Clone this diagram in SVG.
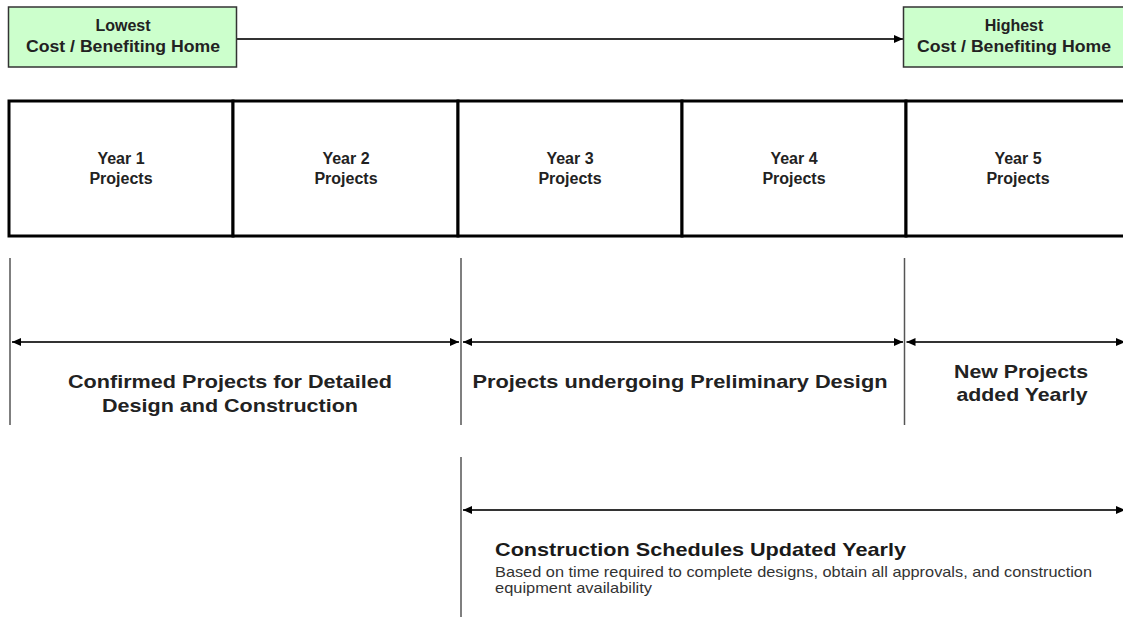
<svg xmlns="http://www.w3.org/2000/svg" width="1123" height="619" viewBox="0 0 1123 619">
<style>
.box{fill:#ccffcc;stroke:#333;stroke-width:1.5}
.cell{fill:#fff;stroke:#000;stroke-width:3}
.bt{font-family:"Liberation Sans",Arial,sans-serif;font-weight:bold;font-size:16px;fill:#222;text-anchor:middle}
.lbl{font-family:"Liberation Sans",Arial,sans-serif;font-weight:bold;font-size:18.5px;fill:#222;text-anchor:middle}
.head{font-family:"Liberation Sans",Arial,sans-serif;font-weight:bold;font-size:18.5px;fill:#1a1a1a}
.sub{font-family:"Liberation Sans",Arial,sans-serif;font-size:14.5px;fill:#333}
.ln{stroke:#333;stroke-width:1.8;fill:none}
.vl{stroke:#555;stroke-width:1.5;fill:none}
</style>
<defs>
<marker id="ah" markerUnits="userSpaceOnUse" markerWidth="10" markerHeight="9" refX="9" refY="4" orient="auto-start-reverse" viewBox="0 0 10 9">
<path d="M0,0 L9,4 L0,8 z" fill="#000"/>
</marker>
</defs>
<rect width="1123" height="619" fill="#fff"/>

<g id="connectors">
<line class="ln" x1="237" y1="39" x2="903" y2="39" marker-end="url(#ah)"/>
<line class="vl" x1="10" y1="258" x2="10" y2="425"/>
<line class="vl" x1="461" y1="258" x2="461" y2="425"/>
<line class="vl" x1="904.5" y1="258" x2="904.5" y2="425"/>
<line class="ln" x1="12" y1="342" x2="459" y2="342" marker-start="url(#ah)" marker-end="url(#ah)"/>
<line class="ln" x1="463" y1="342" x2="903" y2="342" marker-start="url(#ah)" marker-end="url(#ah)"/>
<line class="ln" x1="906.5" y1="342" x2="1125" y2="342" marker-start="url(#ah)" marker-end="url(#ah)"/>
<line class="vl" x1="461" y1="457" x2="461" y2="617"/>
<line class="ln" x1="463" y1="510" x2="1125" y2="510" marker-start="url(#ah)" marker-end="url(#ah)"/>
</g>

<g id="lowest">
<rect class="box" x="8.5" y="7" width="228" height="60"/>
<text class="bt" x="123" y="31">Lowest</text>
<text class="bt" x="123" y="52" textLength="194" lengthAdjust="spacingAndGlyphs">Cost / Benefiting Home</text>
</g>

<g id="highest">
<rect class="box" x="903.5" y="7" width="230" height="60"/>
<text class="bt" x="1014" y="31">Highest</text>
<text class="bt" x="1014" y="52" textLength="194" lengthAdjust="spacingAndGlyphs">Cost / Benefiting Home</text>
</g>

<g id="year1">
<rect class="cell" x="9" y="101" width="224" height="135"/>
<text class="bt" x="121" y="164">Year 1</text>
<text class="bt" x="121" y="184">Projects</text>
</g>
<g id="year2">
<rect class="cell" x="233" y="101" width="225" height="135"/>
<text class="bt" x="346" y="164">Year 2</text>
<text class="bt" x="346" y="184">Projects</text>
</g>
<g id="year3">
<rect class="cell" x="458" y="101" width="224" height="135"/>
<text class="bt" x="570" y="164">Year 3</text>
<text class="bt" x="570" y="184">Projects</text>
</g>
<g id="year4">
<rect class="cell" x="682" y="101" width="224" height="135"/>
<text class="bt" x="794" y="164">Year 4</text>
<text class="bt" x="794" y="184">Projects</text>
</g>
<g id="year5">
<rect class="cell" x="906" y="101" width="230" height="135"/>
<text class="bt" x="1018" y="164">Year 5</text>
<text class="bt" x="1018" y="184">Projects</text>
</g>

<g id="confirmed">
<text class="lbl" x="230" y="388" textLength="324" lengthAdjust="spacingAndGlyphs">Confirmed Projects for Detailed</text>
<text class="lbl" x="230" y="412" textLength="256" lengthAdjust="spacingAndGlyphs">Design and Construction</text>
</g>
<g id="preliminary">
<text class="lbl" x="680" y="388" textLength="415" lengthAdjust="spacingAndGlyphs">Projects undergoing Preliminary  Design</text>
</g>
<g id="newprojects">
<text class="lbl" x="1021" y="378" textLength="134" lengthAdjust="spacingAndGlyphs">New Projects</text>
<text class="lbl" x="1022" y="401" textLength="131" lengthAdjust="spacingAndGlyphs">added Yearly</text>
</g>
<g id="schedules">
<text class="head" x="495" y="556" textLength="411" lengthAdjust="spacingAndGlyphs">Construction Schedules Updated Yearly</text>
<text class="sub" x="495" y="577" textLength="597" lengthAdjust="spacingAndGlyphs">Based on time required to complete designs, obtain all approvals, and construction</text>
<text class="sub" x="495" y="593" textLength="157" lengthAdjust="spacingAndGlyphs">equipment availability</text>
</g>
</svg>
